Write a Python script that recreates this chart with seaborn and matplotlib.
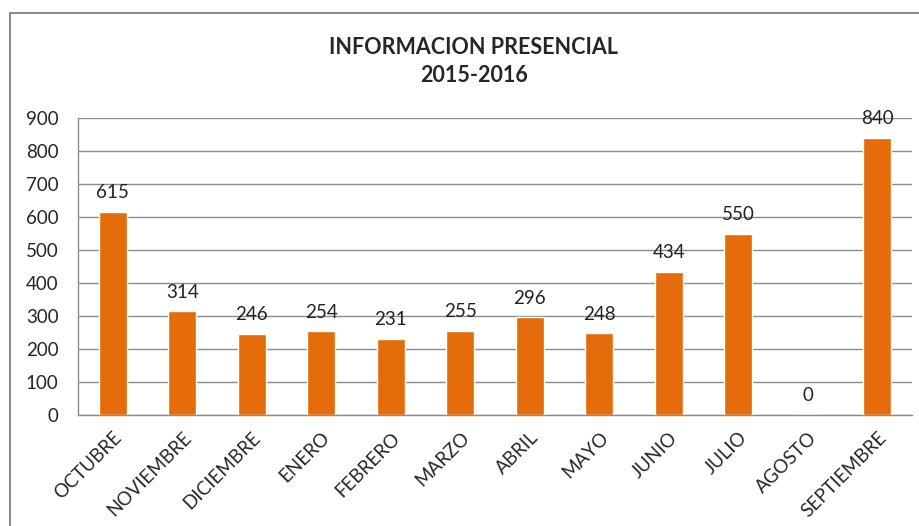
import matplotlib
matplotlib.use("Agg")
import numpy as np
import pandas as pd
import matplotlib.pyplot as plt
import seaborn as sns
from matplotlib.patches import Rectangle

# -----------------------------
# Data
# -----------------------------
meses = ['OCTUBRE', 'NOVIEMBRE', 'DICIEMBRE', 'ENERO', 'FEBRERO', 'MARZO',
         'ABRIL', 'MAYO', 'JUNIO', 'JULIO', 'AGOSTO', 'SEPTIEMBRE']
valores = [615, 314, 246, 254, 231, 255, 296, 248, 434, 550, 0, 840]

df = pd.DataFrame({'Mes': meses, 'Valor': valores})

sns.set_style("white")
plt.rcParams['font.family'] = ['Lato', 'DejaVu Sans']

fig = plt.figure(figsize=(9.2, 5.26), dpi=100)
ax = fig.add_axes([78/920, 1 - 415/526, (912 - 78)/920, (415 - 118)/526])

sns.barplot(x='Mes', y='Valor', data=df, color='#E46C0A', width=0.4,
            saturation=1, ax=ax, zorder=3)

# labels above bars
for i, v in enumerate(valores):
    ax.text(i, v + 32, str(v), ha='center', va='bottom', fontsize=13.5,
            color='#222222')

ax.set_ylim(0, 900)
ax.set_xlim(-0.5, len(meses) - 0.5)
ax.set_yticks(range(0, 1000, 100))
ax.yaxis.grid(True, color='#8c8c8c', linewidth=1)
ax.set_axisbelow(True)
ax.set_xlabel('')
ax.set_ylabel('')

ax.set_xticks(range(len(meses)))
ax.set_xticklabels(meses, rotation=45, ha='right', rotation_mode='anchor',
                   fontsize=13.5)
ax.set_xticks(np.arange(-0.5, len(meses), 1), minor=True)
ax.tick_params(axis='x', which='major', length=0, pad=10)
ax.tick_params(axis='x', which='minor', length=6, color='#8c8c8c', width=1)
ax.tick_params(axis='y', length=6, color='#8c8c8c', labelsize=13.5, pad=8)

for s in ['top', 'right']:
    ax.spines[s].set_visible(False)
for s in ['left', 'bottom']:
    ax.spines[s].set_color('#8c8c8c')
    ax.spines[s].set_linewidth(1)

fig.text(0.515, 1 - 47/526, 'INFORMACION PRESENCIAL', ha='center', va='center',
         fontsize=15.5, fontweight='bold')
fig.text(0.515, 1 - 76/526, '2015-2016', ha='center', va='center',
         fontsize=15.5, fontweight='bold')

# chart border
fig.patches.append(Rectangle((10/920, -0.05), 1.0, 1 - 13/526 + 0.05,
                             transform=fig.transFigure, fill=False,
                             edgecolor='#8c8c8c', linewidth=1.5))

plt.savefig("out.png", dpi=100)
